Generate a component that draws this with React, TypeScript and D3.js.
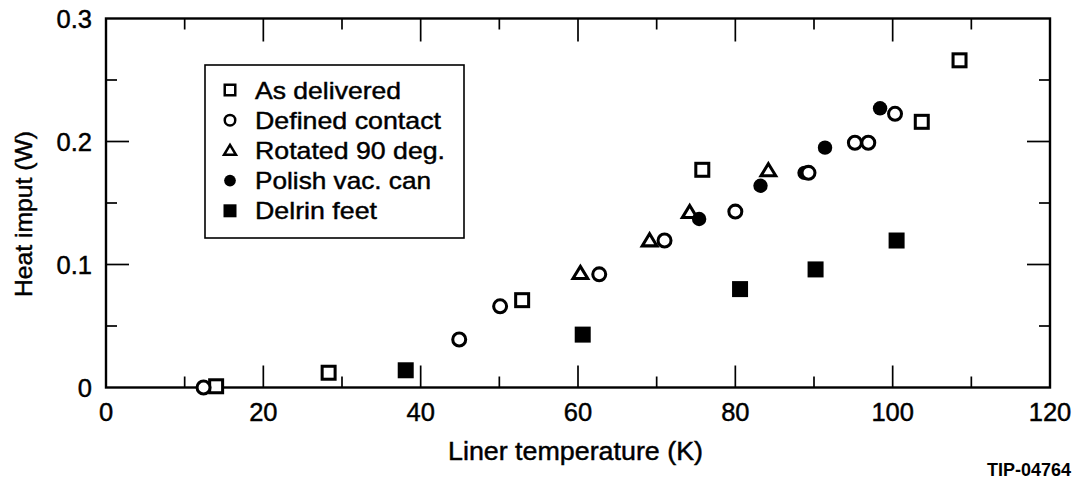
import React from "react";
import * as d3 from "d3";

const asDelivered: [number, number][] = [
  [14.0, 0.001], [28.3, 0.012], [52.9, 0.071], [75.8, 0.177], [103.7, 0.216], [108.5, 0.266],
];
const definedContact: [number, number][] = [
  [12.4, 0.0], [44.9, 0.039], [50.1, 0.066], [62.7, 0.092], [71.0, 0.1195], [80.0, 0.143],
  [89.3, 0.1745], [95.2, 0.199], [96.9, 0.199], [100.3, 0.2225],
];
const rotated90: [number, number][] = [
  [60.3, 0.093], [69.1, 0.1195], [74.2, 0.1425], [84.2, 0.1765],
];
const polishVacCan: [number, number][] = [
  [75.4, 0.137], [83.2, 0.164], [88.8, 0.1745], [91.4, 0.195], [98.4, 0.227],
];
const delrinFeet: [number, number][] = [
  [38.1, 0.014], [60.6, 0.043], [80.6, 0.08], [90.2, 0.096], [100.5, 0.1195],
];

const xTickLabels = [0, 20, 40, 60, 80, 100, 120];
const yTickLabels = ["0", "0.1", "0.2", "0.3"];
const yTickValues = [0, 0.1, 0.2, 0.3];
const legendLabels = ["As delivered", "Defined contact", "Rotated 90 deg.", "Polish vac. can", "Delrin feet"];
const legendWidths = [146, 186, 190, 176, 122];

const FONT = "'Liberation Sans', Arial, Helvetica, sans-serif";

type Kind = "sq" | "circ" | "tri" | "fcirc" | "fsq";

function Marker({ kind, cx, cy, s }: { kind: Kind; cx: number; cy: number; s: number }) {
  const sw = s * 0.19;
  if (kind === "sq" || kind === "fsq") {
    const h = s / 2 - (kind === "sq" ? sw / 2 : 0);
    return (
      <rect x={cx - h} y={cy - h} width={2 * h} height={2 * h}
        fill={kind === "fsq" ? "#000" : "#fff"} stroke={kind === "sq" ? "#000" : "none"} strokeWidth={sw} />
    );
  }
  if (kind === "circ" || kind === "fcirc") {
    const r = kind === "circ" ? s / 2 - sw / 2 : s * 0.45;
    return <circle cx={cx} cy={cy} r={r} fill={kind === "fcirc" ? "#000" : "#fff"}
      stroke={kind === "circ" ? "#000" : "none"} strokeWidth={sw} />;
  }
  const h = s * 0.42;
  const w = s * 0.46;
  const p = `M${cx},${cy - h} L${cx + w},${cy + h * 0.8} L${cx - w},${cy + h * 0.8} Z`;
  return <path d={p} fill="#fff" stroke="#000" strokeWidth={sw} strokeLinejoin="miter" />;
}

export default function App() {
  const W = 1078, H = 482;
  const x = d3.scaleLinear().domain([0, 120]).range([106, 1050]);
  const y = d3.scaleLinear().domain([0, 0.3]).range([387.5, 18.5]);
  const xTicks = d3.range(0, 121, 10);
  const yTicks = d3.range(0, 0.3001, 0.05);

  const series: { kind: Kind; data: [number, number][] }[] = [
    { kind: "sq", data: asDelivered },
    { kind: "tri", data: rotated90 },
    { kind: "fcirc", data: polishVacCan },
    { kind: "circ", data: definedContact },
    { kind: "fsq", data: delrinFeet },
  ];
  const legendKinds: Kind[] = ["sq", "circ", "tri", "fcirc", "fsq"];
  const txt = { fill: "#000", stroke: "#000", strokeWidth: 0.45 };

  return (
    <svg width={W} height={H} style={{ position: "absolute", left: 0, top: 0, background: "#fff" }}
      fontFamily={FONT}>
      <rect x={0} y={0} width={W} height={H} fill="#fff" />
      {xTicks.map((t, i) => {
        const major = t % 20 === 0;
        if (t === 0 || t === 120) return null;
        return (
          <g key={"xt" + i} stroke="#000" strokeWidth={1.7}>
            <line x1={x(t)} x2={x(t)} y1={y(0)} y2={y(0) - (major ? 22 : 11)} />
            <line x1={x(t)} x2={x(t)} y1={y(0.3)} y2={y(0.3) + (major ? 23 : 11)} />
          </g>
        );
      })}
      {yTicks.map((t, i) => {
        const major = Math.round(t * 100) % 10 === 0;
        if (i === 0 || i === yTicks.length - 1) return null;
        return (
          <g key={"yt" + i} stroke="#000" strokeWidth={1.7}>
            <line x1={x(0)} x2={x(0) + (major ? 23 : 11)} y1={y(t)} y2={y(t)} />
            <line x1={x(120)} x2={x(120) - (major ? 23 : 11)} y1={y(t)} y2={y(t)} />
          </g>
        );
      })}
      <rect x={x(0)} y={y(0.3)} width={x(120) - x(0)} height={y(0) - y(0.3)} fill="none" stroke="#000" strokeWidth={2.4} />

      {xTickLabels.map((t) => (
        <text key={"xl" + t} x={x(t)} y={421} textAnchor="middle" fontSize={25.5} {...txt}>{t}</text>
      ))}
      {yTickValues.map((t, i) => (
        <text key={"yl" + i} x={92} y={y(t) + 9} textAnchor="end" fontSize={25.5} {...txt}>{yTickLabels[i]}</text>
      ))}

      <text x={575.5} y={460} textAnchor="middle" fontSize={25} textLength={255} lengthAdjust="spacingAndGlyphs" {...txt}>
        Liner temperature (K)
      </text>
      <text transform={`translate(32,214) rotate(-90)`} textAnchor="middle" fontSize={24.5} textLength={166}
        lengthAdjust="spacingAndGlyphs" {...txt}>
        Heat imput (W)
      </text>
      <text x={1071} y={476} textAnchor="end" fontSize={18} fontWeight="bold" textLength={84}
        lengthAdjust="spacingAndGlyphs" fill="#000">TIP-04764</text>

      <rect x={205} y={65} width={259} height={173} fill="#fff" stroke="#000" strokeWidth={1.6} />
      {legendLabels.map((l, i) => {
        const cy = 90 + i * 30.2;
        return (
          <g key={"lg" + i}>
            <Marker kind={legendKinds[i]} cx={230} cy={cy} s={13} />
            <text x={255} y={cy + 8.5} fontSize={24.5} textLength={legendWidths[i]} lengthAdjust="spacingAndGlyphs" {...txt}>{l}</text>
          </g>
        );
      })}

      {series.map((s, si) => (
        <g key={"s" + si}>
          {s.data.map((d, i) => (
            <Marker key={i} kind={s.kind} cx={x(d[0])} cy={y(d[1])} s={16} />
          ))}
        </g>
      ))}
    </svg>
  );
}
